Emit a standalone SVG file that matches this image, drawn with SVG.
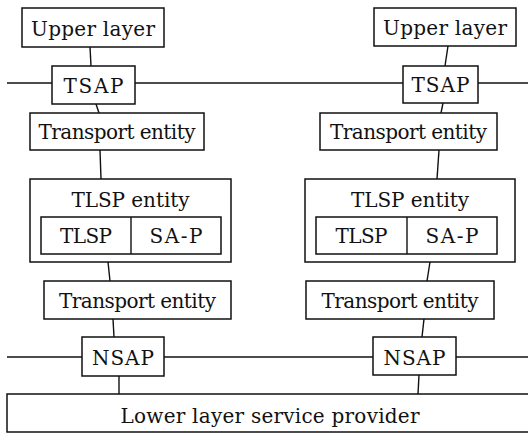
<svg xmlns="http://www.w3.org/2000/svg" width="528" height="433" viewBox="0 0 528 433">
<style>
rect{fill:#fff;stroke:#111;stroke-width:1.5}
line{stroke:#111;stroke-width:1.4}
text{font-family:"DejaVu Serif","Liberation Serif",serif;font-size:20px;fill:#111;text-anchor:middle}
</style>
<rect x="0" y="0" width="528" height="433" style="stroke:none"/>
<g id="connectors">
<line x1="7" y1="83" x2="52" y2="83"/>
<line x1="135" y1="83" x2="403" y2="83"/>
<line x1="477" y1="83" x2="528" y2="83"/>
<line x1="7" y1="357" x2="82" y2="357"/>
<line x1="164" y1="357" x2="373" y2="357"/>
<line x1="456" y1="357" x2="528" y2="357"/>
<line x1="90" y1="47" x2="91" y2="66"/>
<line x1="96" y1="104" x2="99" y2="113"/>
<line x1="100" y1="150" x2="101" y2="179"/>
<line x1="448" y1="46" x2="445" y2="66"/>
<line x1="443" y1="103" x2="441" y2="113"/>
<line x1="439" y1="150" x2="437" y2="179"/>
<line x1="108" y1="262" x2="110" y2="281"/>
<line x1="113" y1="319" x2="114" y2="337"/>
<line x1="119" y1="376" x2="119" y2="394"/>
<line x1="430" y1="262" x2="427" y2="281"/>
<line x1="424" y1="319" x2="422" y2="337"/>
<line x1="419" y1="375" x2="418" y2="394"/>
</g>
<g id="upper-left"><rect x="22" y="8" width="142" height="39"/><text x="93" y="36" textLength="124">Upper layer</text></g>
<g id="upper-right"><rect x="374" y="8" width="142" height="38"/><text x="445" y="35" textLength="124">Upper layer</text></g>
<g id="tsap-left"><rect x="52" y="66" width="83" height="38"/><text x="93.5" y="93" textLength="60">TSAP</text></g>
<g id="tsap-right"><rect x="403" y="66" width="75" height="37"/><text x="440.5" y="92" textLength="58">TSAP</text></g>
<g id="transport-upper-left"><rect x="30" y="113" width="174" height="37"/><text x="117" y="139" textLength="157">Transport entity</text></g>
<g id="transport-upper-right"><rect x="320" y="113" width="177" height="37"/><text x="408.5" y="139" textLength="157">Transport entity</text></g>
<g id="tlsp-left"><rect x="30" y="179" width="201" height="83"/><text x="130.5" y="207" textLength="118">TLSP entity</text>
<rect x="41" y="217" width="180" height="37"/><line x1="131" y1="217" x2="131" y2="254"/>
<text x="86" y="243" textLength="52">TLSP</text><text x="176" y="243" textLength="53">SA-P</text></g>
<g id="tlsp-right"><rect x="305" y="179" width="210" height="83"/><text x="410" y="207" textLength="118">TLSP entity</text>
<rect x="316" y="217" width="181" height="37"/><line x1="407" y1="217" x2="407" y2="254"/>
<text x="361.5" y="243" textLength="52">TLSP</text><text x="452" y="243" textLength="53">SA-P</text></g>
<g id="transport-lower-left"><rect x="44" y="281" width="187" height="38"/><text x="137.5" y="308" textLength="157">Transport entity</text></g>
<g id="transport-lower-right"><rect x="306" y="281" width="188" height="38"/><text x="400" y="308" textLength="157">Transport entity</text></g>
<g id="nsap-left"><rect x="82" y="337" width="82" height="39"/><text x="123" y="365" textLength="62">NSAP</text></g>
<g id="nsap-right"><rect x="373" y="337" width="83" height="38"/><text x="414.5" y="365" textLength="62">NSAP</text></g>
<g id="lower-layer"><rect x="7" y="394" width="530" height="38"/><text x="270" y="423" textLength="299">Lower layer service provider</text></g>
</svg>
